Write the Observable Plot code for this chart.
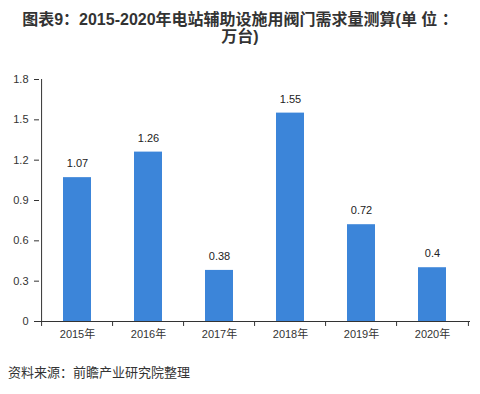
<!DOCTYPE html>
<html>
<head>
<meta charset="utf-8">
<script src="https://cdn.jsdelivr.net/npm/d3@7"></script>
<script src="https://cdn.jsdelivr.net/npm/@observablehq/plot@0.6"></script>
<style>
  html, body { margin: 0; padding: 0; background: #fff; }
  body { width: 480px; font-family: "Liberation Sans", "Noto Sans CJK SC", sans-serif; }
  #title { text-align: center; font-weight: bold; font-size: 16px; line-height: 17px; color: #333; padding-top: 11px; height: 34px; white-space: nowrap; font-family: "Liberation Sans", "Noto Sans CJK SC", sans-serif; }
  #caption { font-size: 13px; line-height: 18px; color: #333; padding-top: 9px; padding-left: 8px; }
  svg { display: block; }
</style>
</head>
<body>
<div id="title">图表9：2015-2020年电站辅助设施用阀门需求量测算(单 位 ：<br>万台)</div>
<div id="chart"></div>
<div id="caption">资料来源：前瞻产业研究院整理</div>
<script>
const years = ["2015年", "2016年", "2017年", "2018年", "2019年", "2020年"];
const values = [1.07, 1.26, 0.38, 1.55, 0.72, 0.4];
const yTicks = [0, 0.3, 0.6, 0.9, 1.2, 1.5, 1.8];
const yTickLabels = ["0", "0.3", "0.6", "0.9", "1.2", "1.5", "1.8"];

const data = years.map((y, i) => ({year: y, value: values[i]}));
const halfStep = (480 - 39 - 10) / years.length / 2;

const chart = Plot.plot({
  width: 480,
  height: 310,
  marginTop: 34,
  marginBottom: 34,
  marginLeft: 39,
  marginRight: 10,
  style: { fontFamily: "'Liberation Sans', 'Noto Sans CJK SC', sans-serif", fontSize: "11px", color: "#333", background: "#fff" },
  x: { domain: years, paddingInner: 0.61, paddingOuter: 0.305 },
  y: { domain: [0, 1.8] },
  marks: [
    Plot.barY(data, { x: "year", y: "value", fill: "#3c85d9" }),
    Plot.text(data, { x: "year", y: "value", text: d => String(d.value), dy: -14, fill: "#222", fontSize: 11 }),
    Plot.ruleY([0], { stroke: "#333" }),
    Plot.ruleX(years, { x: d => d, dx: -halfStep, y1: 0, y2: -0.037, stroke: "#333" }),
    Plot.ruleX([years[years.length - 1]], { x: d => d, dx: halfStep, y1: 0, y2: -0.037, stroke: "#333" }),
    Plot.ruleX([years[0]], { x: d => d, dx: -halfStep, y1: 0, y2: 1.8, stroke: "#333" }),
    Plot.axisY({ ticks: yTicks, tickFormat: (d, i) => yTickLabels[yTicks.indexOf(d)], tickSize: 5, tickPadding: 6, label: null, stroke: "#333", fill: "#333" }),
    Plot.axisX({ tickSize: 0, tickPadding: 9, label: null, fill: "#333" })
  ]
});
document.getElementById("chart").appendChild(chart);
</script>
</body>
</html>
